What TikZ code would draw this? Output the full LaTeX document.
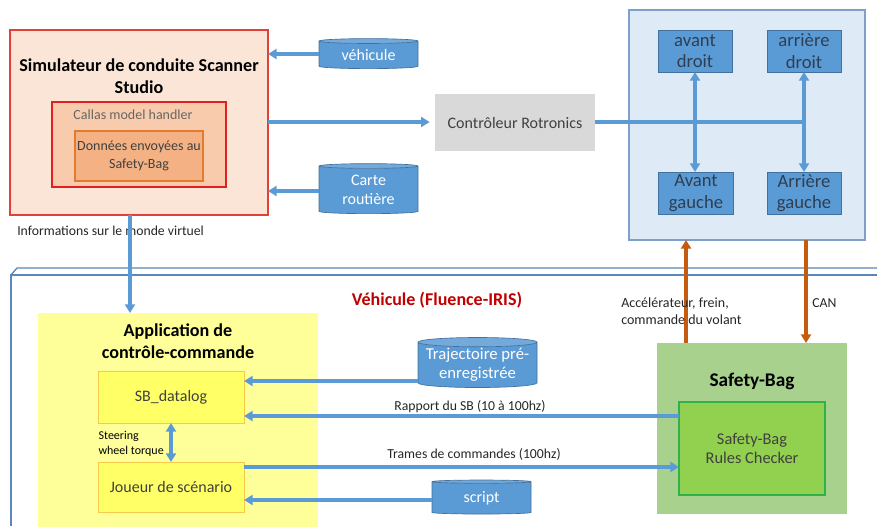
\documentclass[tikz,border=0pt]{standalone}
\usepackage{fontspec}
\setmainfont{Carlito}
\usetikzlibrary{shapes.geometric,arrows.meta}

\definecolor{simfill}{HTML}{FBE5D6}
\definecolor{simline}{HTML}{E0413A}
\definecolor{callasfill}{HTML}{F8CBAD}
\definecolor{callasline}{HTML}{E02020}
\definecolor{donfill}{HTML}{F4B183}
\definecolor{donline}{HTML}{E07B30}
\definecolor{bluefill}{HTML}{5B9BD5}
\definecolor{blueline}{HTML}{41719C}
\definecolor{panelfill}{HTML}{DEEBF7}
\definecolor{panelline}{HTML}{7F9FCB}
\definecolor{ctrlfill}{HTML}{D9D9D9}
\definecolor{darktext}{HTML}{404040}
\definecolor{wheeltext}{HTML}{2F3E52}
\definecolor{orangearr}{HTML}{C55A11}
\definecolor{cubeline}{HTML}{5B86B8}
\definecolor{appfill}{HTML}{FFFF99}
\definecolor{subfill}{HTML}{FFFF66}
\definecolor{subline}{HTML}{F7C948}
\definecolor{sbfill}{HTML}{A9D18E}
\definecolor{rcfill}{HTML}{92D050}
\definecolor{rcline}{HTML}{2DB34A}
\definecolor{vehred}{HTML}{C00000}

\tikzset{
  sz/.style 2 args={minimum width={#1*0.75pt}, minimum height={#2*0.75pt}},
  base/.style={inner sep=0pt, outer sep=0pt, align=center},
  wheel/.style={base, draw=blueline, fill=bluefill, text=wheeltext, font=\fontsize{14}{16}\selectfont, line width=0.6pt},
  subbox/.style={base, draw=subline, fill=subfill, text=darktext, font=\fontsize{12}{14}\selectfont, line width=0.6pt},
  store/.style={cylinder, shape border rotate=90, aspect=0.09, draw=blueline, line width=0.5pt,
    cylinder uses custom fill, cylinder body fill=bluefill, cylinder end fill=bluefill!85!white,
    text=white, inner sep=0pt, outer sep=0pt, align=center, font=\fontsize{12}{14}\selectfont},
  arr/.style={draw=bluefill, line width=2.4pt, -{Triangle[length=6.5pt,width=7.5pt]}},
  darr/.style={draw=bluefill, line width=2.4pt, {Triangle[length=6.5pt,width=7.5pt]}-{Triangle[length=6.5pt,width=7.5pt]}},
  line/.style={draw=bluefill, line width=2.4pt},
  oarr/.style={draw=orangearr, line width=2.4pt, -{Triangle[length=6.5pt,width=7.5pt]}},
  lbl/.style={inner sep=0pt, font=\fontsize{10.3}{12}\selectfont, text=black!85},
  title/.style={inner sep=0pt, align=center, font=\bfseries\fontsize{13.6}{16.5}\selectfont},
}

\begin{document}
\begin{tikzpicture}[x=0.75pt, y=-0.75pt]
\useasboundingbox (0,0) rectangle (877,526);

% Vehicle enclosure (box in perspective, open to the right and bottom)
\draw[cubeline, line width=1pt] (877,275) -- (11,275) -- (11,526);
\draw[cubeline, line width=1pt] (11,275) -- (17,268) -- (877,268);
\node[inner sep=0pt, text=vehred, font=\bfseries\fontsize{13.5}{14}\selectfont] (vehtitle) at (437,300) {Véhicule (Fluence-IRIS)};

% Driving simulator
\node[base, sz={258}{185}, draw=simline, fill=simfill, line width=0.8pt] (sim) at (139,122.5) {};
\node[title] (simtitle) at (139,76) {Simulateur de conduite Scanner\\Studio};
\node[base, sz={174}{85}, draw=callasline, fill=callasfill, line width=0.8pt] (callas) at (139,144.5) {};
\node[inner sep=0pt, text=black!60, font=\fontsize{10.5}{12}\selectfont] (callastxt) at (133,115) {Callas model handler};
\node[base, sz={128}{50}, draw=donline, fill=donfill, line width=0.8pt, text=darktext, font=\fontsize{10.5}{14}\selectfont] (don) at (139,156) {Données envoyées au\\Safety-Bag};

% Data stores feeding the simulator
\node[store, minimum width={99*0.75pt}, minimum height={30*0.75pt}] (veh) at (368.5,55) {véhicule};
\node[store, minimum width={99*0.75pt}, minimum height={50*0.75pt}] (carte) at (368.5,190) {Carte\\routière};

\node[lbl, anchor=west] (infotxt) at (17,231) {Informations sur le monde virtuel};

% Rotronics controller
\node[base, sz={160}{57}, fill=ctrlfill, text=darktext, font=\fontsize{12}{14}\selectfont] (ctrl) at (515,122.5) {Contrôleur Rotronics};

% Motion platform with its four actuators
\node[base, sz={236}{230}, draw=panelline, fill=panelfill, line width=0.8pt] (panel) at (747,125) {};
\node[wheel, sz={74}{42}] (ad) at (695,51) {avant\\droit};
\node[wheel, sz={74}{42}] (ard) at (804,51) {arrière\\droit};
\node[wheel, sz={75}{42}] (ag) at (696,193) {Avant\\gauche};
\node[wheel, sz={74}{42}] (arg) at (804,193) {Arrière\\gauche};

% Control application
\node[base, sz={280}{214}, fill=appfill] (app) at (178,420) {};
\node[title] (apptitle) at (178,341) {Application de\\contrôle-commande};
\node[subbox, sz={146}{52}] (sbd) at (171,397) {SB\_datalog};
\node[subbox, sz={146}{50}] (joueur) at (171,487) {Joueur de scénario};
\node[inner sep=0pt, align=left, anchor=east, font=\fontsize{9}{11}\selectfont] (steer) at (164,444) {Steering\\wheel torque};

\node[store, minimum width={119*0.75pt}, minimum height={50*0.75pt}, font=\fontsize{12.5}{14.5}\selectfont] (traj) at (477.5,365) {Trajectoire pré-\\enregistrée};
\node[store, minimum width={99*0.75pt}, minimum height={34*0.75pt}] (script) at (481.5,498) {script};

% Safety-Bag
\node[base, sz={190}{171}, fill=sbfill] (sb) at (752,428.5) {};
\node[title, font=\bfseries\fontsize{14.5}{16}\selectfont] (sbtitle) at (752,381) {Safety-Bag};
\node[base, sz={146}{93}, draw=rcline, fill=rcfill, line width=0.8pt, text=darktext, font=\fontsize{12.3}{14.5}\selectfont] (rc) at (752,448.5) {Safety-Bag\\Rules Checker};

% Helper coordinates for connector rows
\coordinate (rowveh) at (300,54);
\coordinate (rowctrl) at (300,122);
\coordinate (rowcarte) at (300,191);
\coordinate (colinfo) at (130,260);
\coordinate (join) at (805,122);
\coordinate (rowtraj) at (300,381);
\coordinate (rowrapp) at (300,416);
\coordinate (rowtrames) at (300,467);
\coordinate (rowscript) at (300,500);
\coordinate (colacc) at (686,300);
\coordinate (colcan) at (806,300);

% Simulator connections
\draw[arr] (veh.west |- rowveh) -- (sim.east |- rowveh);
\draw[arr] (carte.west |- rowcarte) -- (sim.east |- rowcarte);
\draw[arr, shorten >=4pt] (sim.east |- rowctrl) -- (ctrl.west |- rowctrl);
\draw[arr] (sim.south -| colinfo) -- (app.north -| colinfo);

% Controller to actuators
\draw[line] (ctrl.east |- join) -- (join);
\draw[darr] (ad.south) -- (ad.south |- ag.north);
\draw[darr] (ard.south) -- (ard.south |- arg.north);

% Safety-Bag to platform
\draw[oarr] (sb.north -| colacc) -- (panel.south -| colacc);
\draw[oarr] (panel.south -| colcan) -- (sb.north -| colcan);
\node[lbl, anchor=west, align=left, font=\fontsize{10.5}{12.5}\selectfont] (acctxt) at (621,311) {Accélérateur, frein,\\commande du volant};
\node[lbl, anchor=west] (cantxt) at (812,303) {CAN};

% Inside the vehicle
\draw[arr] (traj.west |- rowtraj) -- (sbd.east |- rowtraj);
\draw[arr] (rc.west |- rowrapp) -- (sbd.east |- rowrapp);
\draw[arr] (joueur.east |- rowtrames) -- (rc.west |- rowtrames);
\draw[arr] (script.west |- rowscript) -- (joueur.east |- rowscript);
\draw[darr] (sbd.south) -- (joueur.north);
\node[lbl] (rapptxt) at (470,407) {Rapport du SB (10 à 100hz)};
\node[lbl] (tramtxt) at (474,454) {Trames de commandes (100hz)};

\end{tikzpicture}
\end{document}
